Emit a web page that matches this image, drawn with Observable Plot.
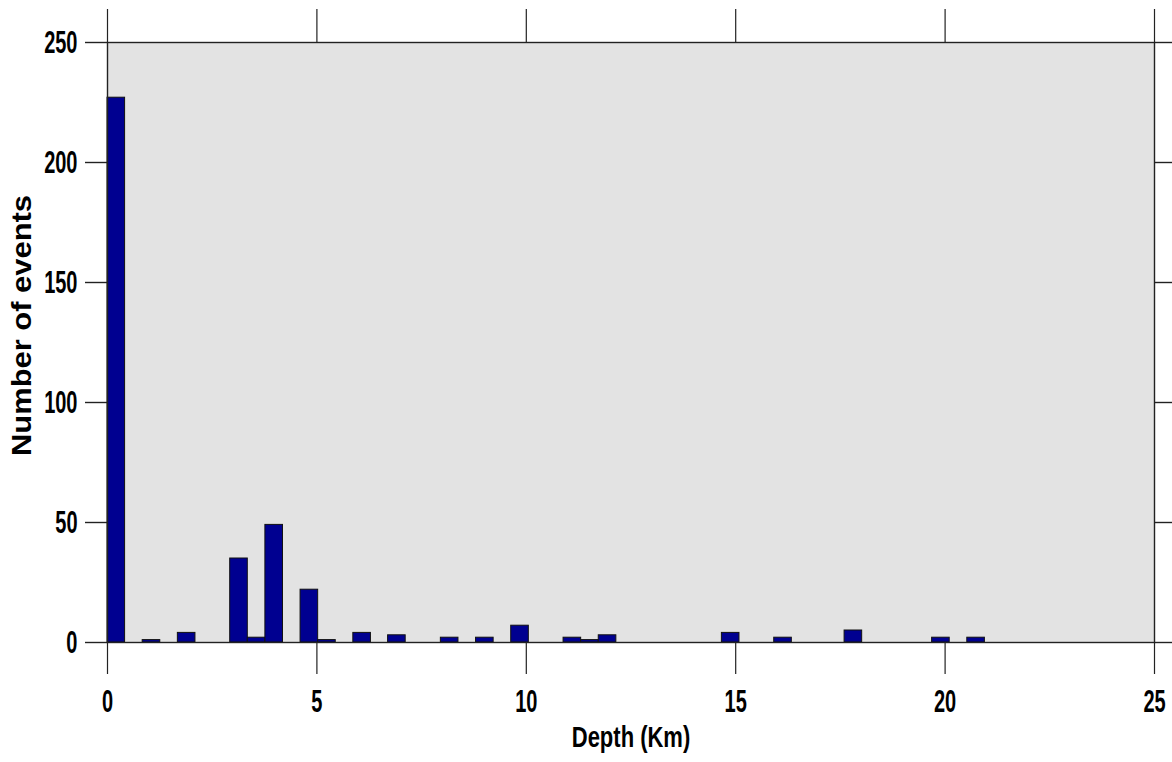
<!DOCTYPE html>
<html>
<head>
<meta charset="utf-8">
<script src="https://cdn.jsdelivr.net/npm/d3@7"></script>
<script src="https://cdn.jsdelivr.net/npm/@observablehq/plot@0.6"></script>
<style>
  html, body { margin: 0; padding: 0; background: #ffffff; }
</style>
</head>
<body>
<div id="chart"></div>
<script>
// Histogram of event depths (km): left edge of each occupied bin, and counts
const depthStart = [0, 0.84, 1.68, 2.93, 3.35, 3.77, 4.61, 5.03, 5.87, 6.70, 7.96, 8.80, 9.64,
                    10.89, 11.31, 11.73, 14.67, 15.92, 17.60, 19.69, 20.53];
const counts     = [227, 1, 4, 35, 2, 49, 22, 1, 4, 3, 2, 2, 7,
                    2, 1, 3, 4, 2, 5, 2, 2];
const binWidth = 0.42;
const xTicks = [0, 5, 10, 15, 20, 25];
const yTicks = [0, 50, 100, 150, 200, 250];
const xTitle = "Depth (Km)";
const yTitle = "Number of events";

const bins = depthStart.map((d, i) => ({x1: d, x2: d + binWidth, count: counts[i]}));

const chart = Plot.plot({
  width: 1172,
  height: 762,
  marginLeft: 107,
  marginRight: 18,
  marginTop: 42,
  marginBottom: 120,
  style: {background: "#ffffff", fontFamily: "Arial, 'Liberation Sans', sans-serif", fontWeight: "bold", color: "#000"},
  x: {domain: [0, 25]},
  y: {domain: [0, 250]},
  marks: [
    Plot.frame({fill: "#e3e3e3", stroke: null}),
    Plot.rectY(bins, {x1: "x1", x2: "x2", y: "count", fill: "#000090", stroke: "#111", strokeWidth: 1}),
    Plot.frame({stroke: "#222", strokeWidth: 1.4}),
    Plot.axisY(yTicks, {anchor: "left", tickSize: 22, tickPadding: 8, fontSize: 20, label: null, strokeWidth: 1.4, stroke: "#222"}),
    Plot.axisY(yTicks, {anchor: "right", tickSize: 18, tickFormat: () => "", label: null, strokeWidth: 1.4, stroke: "#222"}),
    Plot.axisX(xTicks, {anchor: "bottom", tickSize: 32, tickPadding: 19, fontSize: 20, label: null, strokeWidth: 1.2, stroke: "#222"}),
    Plot.axisX(xTicks, {anchor: "top", tickSize: 34, tickFormat: () => "", label: null, strokeWidth: 1.2, stroke: "#222"}),
    Plot.text([xTitle], {text: d => d, frameAnchor: "bottom", dy: 95, fontSize: 22, fontWeight: "bold", textAnchor: "middle", lineAnchor: "middle"}),
    Plot.text([yTitle], {text: d => d, frameAnchor: "left", dx: -85, dy: -17, rotate: -90, fontSize: 27, fontWeight: "bold", textAnchor: "middle", lineAnchor: "middle"})
  ]
});

document.getElementById("chart").appendChild(chart);

// Reproduce the vertically stretched lettering of the reference
function stretch(selection, s) {
  selection.each(function () {
    const b = this.getBBox();
    const cy = b.y + b.height / 2;
    const t = this.getAttribute("transform") || "";
    this.setAttribute("transform", `${t} translate(0,${cy}) scale(1,${s}) translate(0,${-cy})`);
  });
}
const svg = d3.select(chart);
const byText = s => svg.selectAll("text").filter(function () { return this.textContent === s; });
stretch(svg.selectAll('g[aria-label="y-axis tick label"] text'), 1.6);
stretch(svg.selectAll('g[aria-label="x-axis tick label"] text'), 1.6);
stretch(byText(xTitle), 1.33);
byText(yTitle)
  .attr("textLength", 261)
  .attr("lengthAdjust", "spacingAndGlyphs");
</script>
</body>
</html>
